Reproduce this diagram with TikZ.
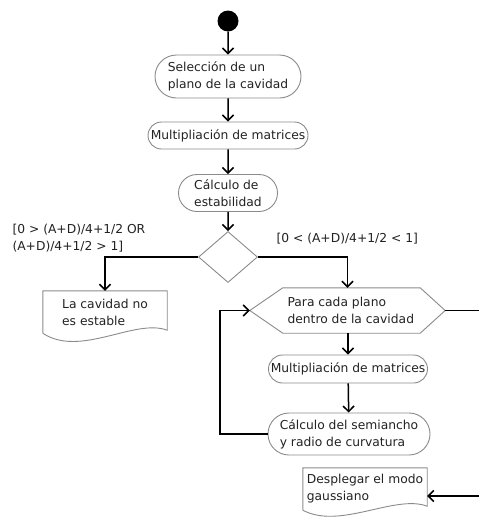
\documentclass[tikz,border=0pt]{standalone}
\usepackage{fontspec}
\setmainfont{DejaVu Sans}
\usetikzlibrary{arrows.meta,shapes.misc,shapes.geometric}
\definecolor{bord}{HTML}{8A8A8A}
\definecolor{txt}{HTML}{222222}
\begin{document}
\begin{tikzpicture}[x=1pt,y=-1pt,
  every node/.style={font=\fontsize{12.3}{17}\selectfont, text=txt},
  act/.style={rounded rectangle, draw=bord, line width=0.9pt, inner xsep=4pt, inner ysep=0pt, align=left},
  flow/.style={line width=1.5pt, -{Straight Barb[length=5.5pt,width=11pt,line width=1.5pt]}},
  shapeline/.style={draw=bord, line width=0.9pt}]
\useasboundingbox (0,0) rectangle (479,517);
\clip (0,0) rectangle (479,517);

\node[circle, fill=black, minimum size=21pt, inner sep=0pt] (start) at (228,21) {};
\node[act, minimum width=154pt, minimum height=43pt] (sel) at (228,76.5) {Selección de un\\plano de la cavidad};
\node[act, minimum width=168pt, minimum height=27pt] (mult1) at (228,135.5) {Multipliación de matrices};
\node[act, minimum width=107pt, minimum height=37pt] (estab) at (228,193) {Cálculo de\\estabilidad};
\node[diamond, draw=bord, line width=0.9pt, minimum width=59pt, minimum height=51pt, inner sep=0pt] (dec) at (228,257) {};

\node[anchor=west, align=left] (condA) at (9,238.5) {[0 > (A+D)/4+1/2 OR\\(A+D)/4+1/2 > 1]};
\node[anchor=west] (condB) at (273,239) {[0 < (A+D)/4+1/2 < 1]};

% unstable document
\node[minimum width=124pt, minimum height=42pt, align=left] (unst) at (105,312) {La cavidad no\\es estable};
\draw[shapeline] (unst.south west) -- (unst.north west) -- (unst.north east) -- ([yshift=3pt]unst.south east)
  .. controls (135,318) and (80,358) .. (unst.south west);

% hexagon loop
\node[minimum width=195pt, minimum height=45pt, inner sep=0pt] (hex) at (347.5,310.5) {};
\draw[shapeline] (hex.west) -- ([xshift=33pt]hex.north west) -- ([xshift=-25pt]hex.north east) -- (hex.east)
  -- ([xshift=-25pt]hex.south east) -- ([xshift=33pt]hex.south west) -- cycle;
\node[anchor=west, align=left] (hexT) at (284,310.5) {Para cada plano\\dentro de la cavidad};

\node[act, minimum width=167pt, minimum height=28pt] (mult2) at (348,369) {Multipliación de matrices};
\node[act, minimum width=170pt, minimum height=42pt] (calc2) at (349,434) {Cálculo del semiancho\\y radio de curvatura};

% display document
\node[minimum width=124pt, minimum height=42pt, inner xsep=2pt, align=left] (disp) at (365,489) {Desplegar el modo\\gaussiano};
\draw[shapeline] (disp.south west) -- (disp.north west) -- (disp.north east) -- ([yshift=4pt]disp.south east)
  .. controls (395,494) and (340,530) .. (disp.south west);

% connectors
\draw[flow] (start) -- (sel);
\draw[flow] (sel) -- (mult1);
\draw[flow] (mult1) -- (estab);
\draw[flow] (estab) -- (dec);
\draw[flow] (dec.west) -| (unst.north);
\draw[flow] (dec.east) -| (hex.north);
\draw[flow] (hex.south -| mult2.north) -- (mult2.north);
\draw[flow] (mult2) -- (calc2);
\coordinate (lp) at (220,437);
\draw[flow] (calc2.west) -- (calc2.west -| lp) |- (hex.west);
\coordinate (cr) at (492,496);
\draw[flow] (hex.east) -| (cr) -- (cr -| disp.east);
\end{tikzpicture}
\end{document}
